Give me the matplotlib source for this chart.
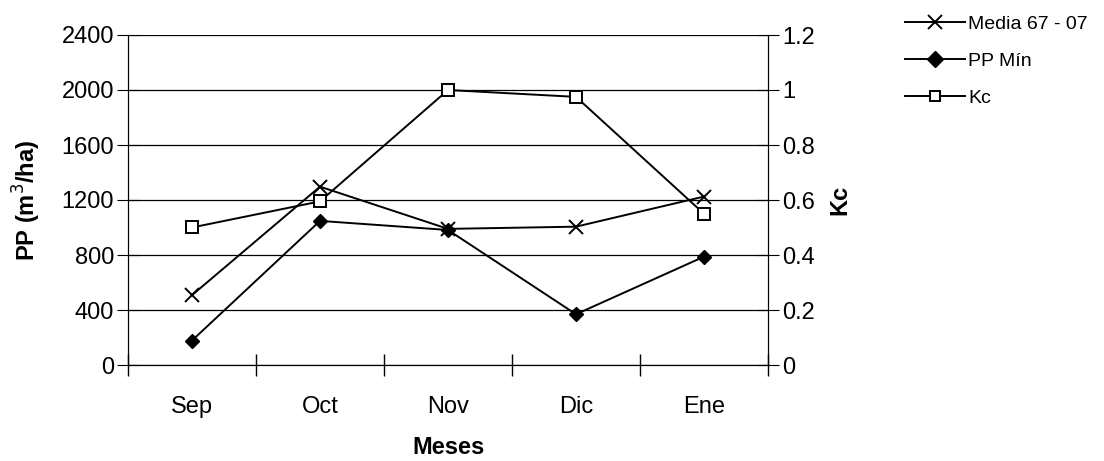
import matplotlib
matplotlib.use("Agg")
import matplotlib.pyplot as plt
from matplotlib.lines import Line2D

plt.rcParams['font.family'] = ['Liberation Sans', 'DejaVu Sans']

meses = ["Sep", "Oct", "Nov", "Dic", "Ene"]
media = [508, 1297, 990, 1006, 1225]
pp_min = [178, 1048, 982, 369, 788]
kc = [0.50, 0.595, 1.0, 0.975, 0.55]

fig = plt.figure(figsize=(11.04, 4.61), dpi=100)
ax = fig.add_axes([128/1104, 1-365/461, 640/1104, 330/461])
ax2 = ax.twinx()

x = list(range(len(meses)))
ax.plot(x, media, color='black', lw=1.4, marker='x', ms=10, mew=1.4, label='Media 67 - 07', zorder=3)
ax.plot(x, pp_min, color='black', lw=1.4, marker='D', ms=7.5, label='PP Mín', zorder=3)
ax2.plot(x, kc, color='black', lw=1.4, marker='s', ms=8, mfc='white', mew=1.4, label='Kc', zorder=3)

ax.set_xlim(-0.5, 4.5)
ax.set_ylim(0, 2400)
ax2.set_ylim(0, 1.2)
ax.set_yticks(range(0, 2401, 400))
ax2.set_yticks([0, 0.2, 0.4, 0.6, 0.8, 1.0, 1.2])
ax2.set_yticklabels(["0", "0.2", "0.4", "0.6", "0.8", "1", "1.2"])
ax.set_xticks(x)
ax.set_xticklabels(meses)
ax.set_xticks([-0.5, 0.5, 1.5, 2.5, 3.5, 4.5], minor=True)
ax.tick_params(axis='x', which='major', length=0, pad=22, labelsize=17)
ax.tick_params(axis='x', which='minor', length=16, direction='inout', width=1)
ax.tick_params(axis='y', length=16, direction='inout', labelsize=17, pad=2)
ax2.tick_params(axis='y', length=16, direction='inout', labelsize=17, pad=2)

ax.grid(axis='y', color='black', lw=0.9)
ax.set_axisbelow(True)
for s in ['top']:
    ax.spines[s].set_visible(False)
    ax2.spines[s].set_visible(False)

ax.set_ylabel("PP (m$^3$/ha)", fontsize=17, fontweight='bold', labelpad=13)
ax2.set_ylabel("Kc", fontsize=17, fontweight='bold', labelpad=10)
ax.set_xlabel("Meses", fontsize=17, fontweight='bold', labelpad=13)

handles = [
    Line2D([], [], color='black', lw=1.4, marker='x', ms=10, mew=1.4),
    Line2D([], [], color='black', lw=1.4, marker='D', ms=8),
    Line2D([], [], color='black', lw=1.4, marker='s', ms=7, mfc='white', mew=1.4),
]
fig.legend(handles, ['Media 67 - 07', 'PP Mín', 'Kc'], loc='upper left',
           bbox_to_anchor=(905/1104, 1 - 15/461), frameon=False, fontsize=14,
           borderpad=0, borderaxespad=0,
           handlelength=3.1, handletextpad=0.15, labelspacing=1.0)

fig.savefig("out.png", dpi=100)
